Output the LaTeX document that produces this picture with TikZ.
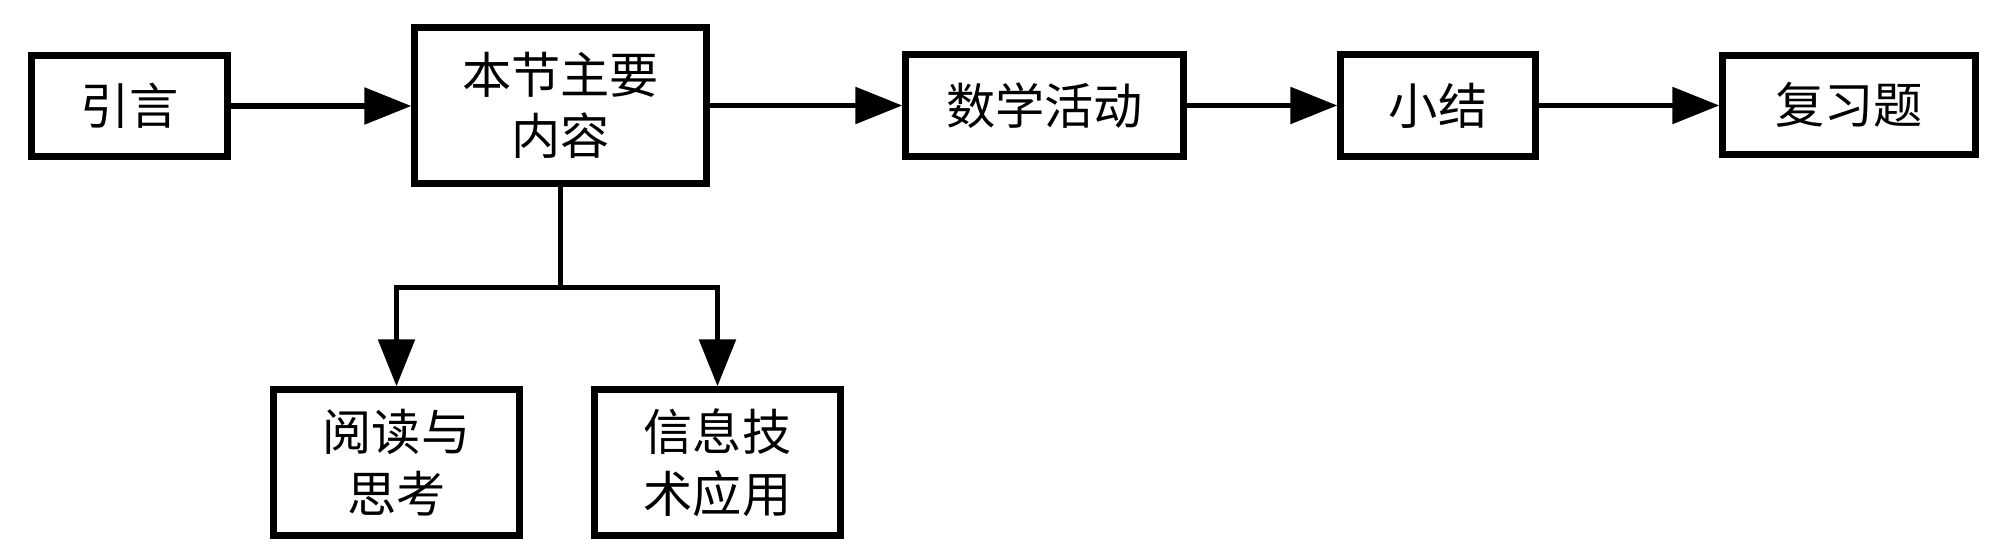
\documentclass[tikz,border=0pt]{standalone}
\usepackage{fontspec}
\setmainfont{Noto Sans CJK SC}
\usetikzlibrary{arrows.meta}
\tikzset{
  box/.style={draw, line width=1.8pt, align=center, inner sep=0pt,
    font=\fontsize{14}{17.5}\selectfont},
  link/.style={line width=1.6pt, -{Triangle[length=4.7mm,width=3.6mm]}},
}
\begin{document}
\begin{tikzpicture}
    \useasboundingbox (0,0) rectangle (20,-5.58);
    % top row
    \node[box, minimum width=1.96cm, minimum height=1.01cm] (yinyan) at (1.295,-1.06) {引言};
    \node[box, minimum width=2.92cm, minimum height=1.56cm] (main) at (5.605,-1.055) {本节主要\\内容};
    \node[box, minimum width=2.78cm, minimum height=1.02cm] (shuxue) at (10.445,-1.055) {数学活动};
    \node[box, minimum width=1.95cm, minimum height=1.02cm] (xiaojie) at (14.38,-1.055) {小结};
    \node[box, minimum width=2.53cm, minimum height=0.99cm] (fuxi) at (18.49,-1.05) {复习题};
    % bottom row
    \node[box, minimum width=2.46cm, minimum height=1.46cm] (yuedu) at (3.965,-4.625) {阅读与\\思考};
    \node[box, minimum width=2.46cm, minimum height=1.46cm] (xinxi) at (7.175,-4.625) {信息技\\术应用};
    \foreach \a/\b in {yinyan/main, main/shuxue, shuxue/xiaojie, xiaojie/fuxi} {
      \draw[link] (\a.east) -- (\b.west |- \a.east);
    }
    \draw[line width=1.6pt] (main.south) -- ++(0,-1.01) coordinate (fork);
    \draw[link] (fork) -| (yuedu.north);
    \draw[link] (fork) -| (xinxi.north);
\end{tikzpicture}
\end{document}
